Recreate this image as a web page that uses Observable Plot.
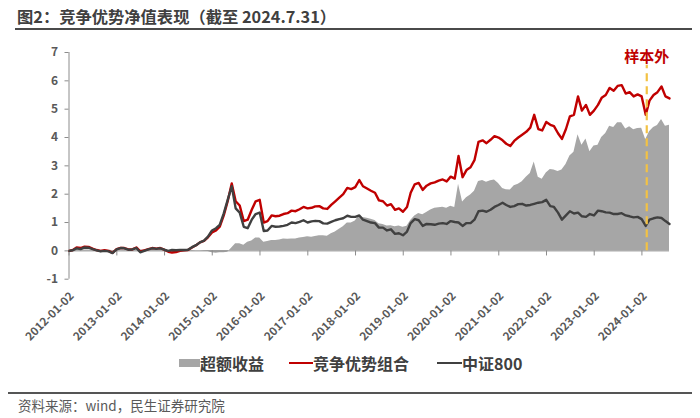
<!DOCTYPE html>
<html>
<head>
<meta charset="utf-8">
<script src="https://cdn.jsdelivr.net/npm/d3@7"></script>
<script src="https://cdn.jsdelivr.net/npm/@observablehq/plot@0.6"></script>
<style>
  html, body { margin: 0; padding: 0; background: #fff; }
  body { width: 700px; height: 418px; position: relative; overflow: hidden;
         font-family: "Noto Sans CJK SC", "Noto Sans", sans-serif; }
  #title { position: absolute; left: 17px; top: 4px; font-size: 16.3px; font-weight: bold;
           color: #404040; line-height: 24px; white-space: nowrap; }
  #titleLine { position: absolute; left: 15px; right: 8px; top: 28px; height: 2px; background: #4a4a4a; }
  #chart { position: absolute; left: 0; top: 32px; }
  .leg { position: absolute; top: 352px; height: 22px; display: flex; align-items: center;
         font-size: 16px; font-weight: bold; color: #404040; white-space: nowrap; }
  .sw { display: inline-block; }
  #capLine { position: absolute; left: 8px; right: 8px; top: 392px; height: 1.5px; background: #555; }
  #caption { position: absolute; left: 18px; top: 396px; font-size: 13.5px; color: #595959; line-height: 18px; white-space: nowrap; }
</style>
</head>
<body>
<div id="title"></div>
<div id="titleLine"></div>
<div id="chart"></div>
<div id="legend"></div>
<div id="capLine"></div>
<div id="caption"></div>
<script>
const titleText = "图2：竞争优势净值表现（截至 2024.7.31）";
const captionText = "资料来源：wind，民生证券研究院";
const seriesNames = ["超额收益", "竞争优势组合", "中证800"];
const annotationText = "样本外";
const sampleOutDate = "2024-02-08";
const startDate = "2012-01-04";
const endDate = "2024-07-31";
const xTickLabels = ["2012-01-02","2013-01-02","2014-01-02","2015-01-02","2016-01-02","2017-01-02",
  "2018-01-02","2019-01-02","2020-01-02","2021-01-02","2022-01-02","2023-01-02","2024-01-02"];
const yTicks = [-1, 0, 1, 2, 3, 4, 5, 6, 7];

// monthly values (first value = start, then month ends Jan 2012 .. Jul 2024)
const portfolio = [0,
  0.03,0.12,0.10,0.15,0.14,0.08,0.03,0.00,0.02,0.00,-0.07,0.06,
  0.10,0.10,0.05,0.05,0.12,-0.02,0.02,0.06,0.10,0.08,0.10,0.04,
  -0.03,-0.06,-0.04,0.00,0.02,0.03,0.12,0.20,0.30,0.35,0.48,0.65,
  0.72,0.85,1.25,1.75,2.38,1.75,1.60,1.05,1.10,1.45,1.75,1.80,
  1.00,1.05,1.25,1.22,1.24,1.30,1.33,1.42,1.40,1.47,1.55,1.50,
  1.52,1.57,1.58,1.50,1.48,1.62,1.75,1.88,2.00,2.22,2.18,2.25,
  2.50,2.28,2.20,2.12,2.05,1.78,1.75,1.60,1.65,1.45,1.50,1.38,
  1.55,2.05,2.35,2.40,2.15,2.30,2.38,2.42,2.48,2.52,2.45,2.62,
  2.55,3.35,2.60,2.85,2.95,3.20,3.85,3.90,3.80,3.92,4.05,4.00,
  3.90,3.78,3.70,3.88,4.00,4.10,4.20,4.35,4.80,4.30,4.25,4.55,
  4.45,4.40,4.15,3.95,4.30,4.75,4.80,5.45,4.95,5.15,4.80,4.95,
  5.15,5.40,5.50,5.75,5.65,5.82,5.85,5.55,5.60,5.45,5.52,5.45,
  4.80,5.30,5.50,5.60,5.80,5.45,5.38];
const csi800 = [0,
  0.02,0.09,0.06,0.12,0.11,0.06,0.02,-0.02,0.00,-0.02,-0.08,0.05,
  0.10,0.09,0.04,0.05,0.10,-0.05,0.00,0.05,0.09,0.07,0.09,0.04,
  0.00,0.03,0.02,0.03,0.03,0.04,0.13,0.20,0.30,0.36,0.50,0.72,
  0.80,0.92,1.32,1.80,2.28,1.50,1.35,0.85,0.80,1.10,1.30,1.35,
  0.70,0.72,0.88,0.85,0.86,0.88,0.92,1.00,0.98,1.02,1.08,1.00,
  1.04,1.06,1.05,0.97,0.96,1.02,1.08,1.12,1.15,1.24,1.20,1.20,
  1.25,1.10,1.05,1.00,0.98,0.82,0.82,0.72,0.76,0.60,0.62,0.55,
  0.68,0.98,1.12,1.08,0.88,0.95,0.94,0.92,0.96,0.98,0.95,1.05,
  1.02,1.00,0.88,0.98,0.98,1.10,1.40,1.42,1.38,1.45,1.55,1.62,
  1.70,1.62,1.55,1.58,1.65,1.66,1.60,1.62,1.66,1.70,1.72,1.80,
  1.58,1.55,1.35,1.10,1.25,1.40,1.32,1.35,1.22,1.20,1.30,1.25,
  1.42,1.40,1.36,1.35,1.30,1.30,1.33,1.25,1.22,1.18,1.20,1.12,
  0.88,1.10,1.15,1.18,1.16,1.05,0.95];
const excess = [0,
  0.01,0.03,0.04,0.03,0.03,0.02,0.01,0.02,0.02,0.02,0.01,0.01,
  0.00,0.01,0.01,0.00,0.02,0.03,0.02,0.01,0.01,0.01,0.01,0.00,
  -0.03,-0.09,-0.06,-0.03,-0.01,-0.01,-0.01,0.00,0.00,-0.01,-0.02,-0.07,
  -0.08,-0.07,-0.07,-0.05,0.10,0.25,0.25,0.20,0.30,0.35,0.45,0.45,
  0.30,0.33,0.37,0.37,0.38,0.42,0.41,0.42,0.42,0.45,0.47,0.50,
  0.48,0.51,0.53,0.53,0.52,0.60,0.67,0.76,0.85,0.98,0.98,1.05,
  1.25,1.18,1.15,1.12,1.07,0.96,0.93,0.88,0.89,0.85,0.88,0.83,
  0.87,1.07,1.23,1.32,1.27,1.35,1.44,1.50,1.52,1.54,1.50,1.57,
  1.53,2.35,1.72,1.87,1.97,2.10,2.45,2.48,2.42,2.47,2.50,2.38,
  2.20,2.16,2.15,2.30,2.35,2.44,2.60,2.73,3.14,2.60,2.53,2.75,
  2.87,2.85,2.80,2.85,3.05,3.35,3.48,4.10,3.73,3.95,3.50,3.70,
  3.73,4.00,4.14,4.40,4.35,4.52,4.52,4.30,4.38,4.27,4.32,4.33,
  3.92,4.20,4.35,4.42,4.64,4.40,4.43];

const colors = { excess: "#a6a6a6", portfolio: "#c00000", index: "#404040", dash: "#f3c244", axis: "#8c8c8c", text: "#595959" };

// dates: start + each month end
const monthEnds = d3.utcMonth.range(new Date(Date.UTC(2012, 1, 1)), new Date(Date.UTC(2024, 7, 2)))
  .map(d => d3.utcDay.offset(d, -1));
const dates = [new Date(startDate)].concat(monthEnds);
const data = dates.map((d, i) => ({ date: d, portfolio: portfolio[i], index: csi800[i], excess: excess[i] }));
const tickDates = xTickLabels.map(s => new Date(s));
const sampleDate = new Date(sampleOutDate);

const chart = Plot.plot({
  width: 700, height: 322,
  marginLeft: 68.5, marginRight: 31, marginTop: 20, marginBottom: 75.3,
  style: { fontFamily: "'Noto Sans CJK SC', 'Noto Sans', sans-serif", background: "transparent" },
  x: { type: "utc", domain: [new Date(xTickLabels[0]), new Date(endDate)] },
  y: { domain: [-1, 7] },
  marks: [
    Plot.areaY(data, { x: "date", y: "excess", fill: colors.excess }),
    Plot.ruleY([0], { stroke: colors.axis, strokeWidth: 1 }),
    Plot.ruleX([new Date(xTickLabels[0])], { stroke: colors.axis, strokeWidth: 1 }),
    Plot.ruleX(tickDates, { x: d => d, y1: 0, y2: -0.18, stroke: colors.axis }),
    Plot.lineY(data, { x: "date", y: "portfolio", stroke: colors.portfolio, strokeWidth: 2.4 }),
    Plot.lineY(data, { x: "date", y: "index", stroke: colors.index, strokeWidth: 2.4 }),
    Plot.ruleX([sampleDate], { y1: 0, y2: 6.55, stroke: colors.dash, strokeWidth: 2.2, strokeDasharray: "8,5" }),
    Plot.text([annotationText], { x: sampleDate, y: 6.85, text: d => d, fill: colors.portfolio, fontSize: 15, fontWeight: "bold" }),
    Plot.axisY({ ticks: yTicks, tickSize: 4, tickPadding: 7, tickFormat: d => String(d),
      color: colors.text, stroke: colors.axis, fontSize: 12, fontWeight: "bold" }),
    Plot.axisX({ ticks: tickDates, tickSize: 0, tickPadding: 15, tickRotate: -45, dx: 3,
      tickFormat: d3.utcFormat("%Y-%m-%d"), color: colors.text, fontSize: 11.5, fontWeight: "bold", label: null })
  ]
});
document.getElementById("chart").appendChild(chart);
document.getElementById("title").textContent = titleText;
document.getElementById("caption").textContent = captionText;

const legend = document.getElementById("legend");
const legendItems = [
  { name: seriesNames[0], left: 179, sw: `width:21px;height:8px;background:${colors.excess}` },
  { name: seriesNames[1], left: 289, sw: `width:24px;height:2.5px;background:${colors.portfolio}` },
  { name: seriesNames[2], left: 437, sw: `width:25px;height:2.5px;background:${colors.index}` }
];
for (const it of legendItems) {
  const el = document.createElement("div");
  el.className = "leg";
  el.style.left = it.left + "px";
  el.innerHTML = `<span class="sw" style="${it.sw}"></span><span>${it.name}</span>`;
  legend.appendChild(el);
}
</script>
</body>
</html>
